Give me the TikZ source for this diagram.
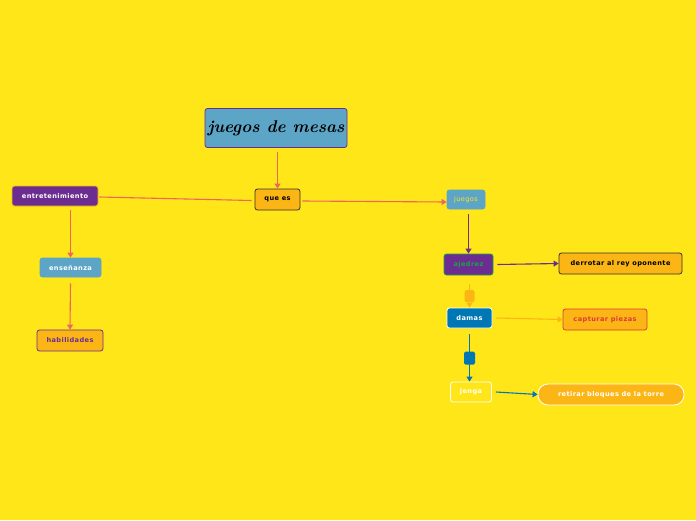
\documentclass[tikz,border=0pt]{standalone}
\usepackage{fontspec}
\setsansfont[LetterSpace=6]{DejaVu Sans}
\usetikzlibrary{arrows.meta}
\definecolor{bg}{HTML}{FFE619}
\definecolor{pink}{HTML}{EE6660}
\definecolor{purp}{HTML}{6B2D90}
\definecolor{lblue}{HTML}{5DA5C6}
\definecolor{orng}{HTML}{FBB615}
\definecolor{dblue}{HTML}{0077B5}
\definecolor{grn}{HTML}{1FA04A}
\definecolor{redt}{HTML}{E0383C}
\tikzset{
  box/.style={draw, rounded corners=2.5pt, line width=0.8pt, minimum height=20pt, inner sep=0pt,
    font=\sffamily\bfseries\fontsize{6.6}{7}\selectfont},
  conn/.style={line width=1.1pt, -{Triangle[length=5pt,width=6pt]}},
  sq/.style={rounded corners=1.5pt, inner sep=0pt, minimum width=10pt, minimum height=12pt}
}
\begin{document}
\begin{tikzpicture}[x=1pt,y=-1pt]
\useasboundingbox[fill=bg] (0,0) rectangle (696,520);
\node[box, fill=lblue, draw=purp, minimum width=142pt, minimum height=39pt,
  font=\bfseries\itshape\fontsize{17}{18}\selectfont] (title) at (276,128) {juegos de mesas};
\node[box, fill=orng, draw=black!80, minimum width=45pt, minimum height=21pt] (que) at (277.5,199.5) {que es};
\node[box, fill=purp, draw=orng, text=white, minimum width=86pt] (ent) at (55,196) {entretenimiento};
\node[box, fill=lblue, draw=lblue, text=white, minimum width=61pt, minimum height=19pt] (ens) at (70.5,267.5) {enseñanza};
\node[box, fill=orng, draw=purp, text=purp, minimum width=66pt, minimum height=21pt] (hab) at (70,340.5) {habilidades};
\node[box, fill=lblue, draw=lblue, text=bg, minimum width=38pt, minimum height=19pt, font=\sffamily\fontsize{6.6}{7}\selectfont] (jue) at (466,199.5) {juegos};
\node[box, fill=purp, draw=grn, text=grn, minimum width=49pt, minimum height=21pt] (aje) at (468.5,264.5) {ajedrez};
\node[box, fill=orng, draw=black!80, text=black, minimum width=123pt, minimum height=21pt] (der) at (620.5,263.5) {derrotar al rey oponente};
\node[box, fill=dblue, draw=white, text=white, minimum width=45pt] (dam) at (469.5,318) {damas};
\node[box, fill=orng, draw=redt, text=redt, minimum width=84pt, minimum height=21pt] (cap) at (605,319.5) {capturar piezas};
\node[box, fill=bg, draw=white, text=white, minimum width=41pt] (jen) at (471,392) {jenga};
\node[box, fill=orng, draw=white, text=white, rounded corners=10pt, minimum width=146pt, minimum height=21pt] (ret) at (611,394.5) {retirar bloques de la torre};

\draw[conn, pink] ([yshift=-4pt]que.north |- title.south) -- (que.north);
\draw[line width=1.1pt, pink] ([xshift=-3pt,yshift=-1pt]que.west) -- ([xshift=1pt,yshift=-1pt]ent.east);
\draw[conn, pink] ([xshift=2pt,yshift=-1.5pt]que.east) -- ([yshift=-2.5pt]jue.west);
\draw[conn, pink] ([yshift=-4pt]ens.north |- ent.south) -- (ens.north);
\draw[conn, pink] ([yshift=-6pt]ens.south) -- (hab.north);
\draw[conn, purp] ([yshift=-5pt]aje.north |- jue.south) -- (aje.north);
\draw[conn, purp] ([xshift=4pt]aje.east) -- (der.west);
\draw[conn, orng] ([yshift=-9pt]dam.north |- aje.south) -- node[sq, fill=orng]{} (dam.north);
\draw[conn, orng] ([xshift=4pt]dam.east) -- (cap.west);
\draw[conn, dblue] ([yshift=-6pt]dam.south) -- node[sq, fill=dblue, minimum width=11pt, minimum height=13pt]{} (dam.south |- jen.north);
\draw[conn, dblue] ([xshift=4pt]jen.east) -- (ret.west);
\end{tikzpicture}
\end{document}
